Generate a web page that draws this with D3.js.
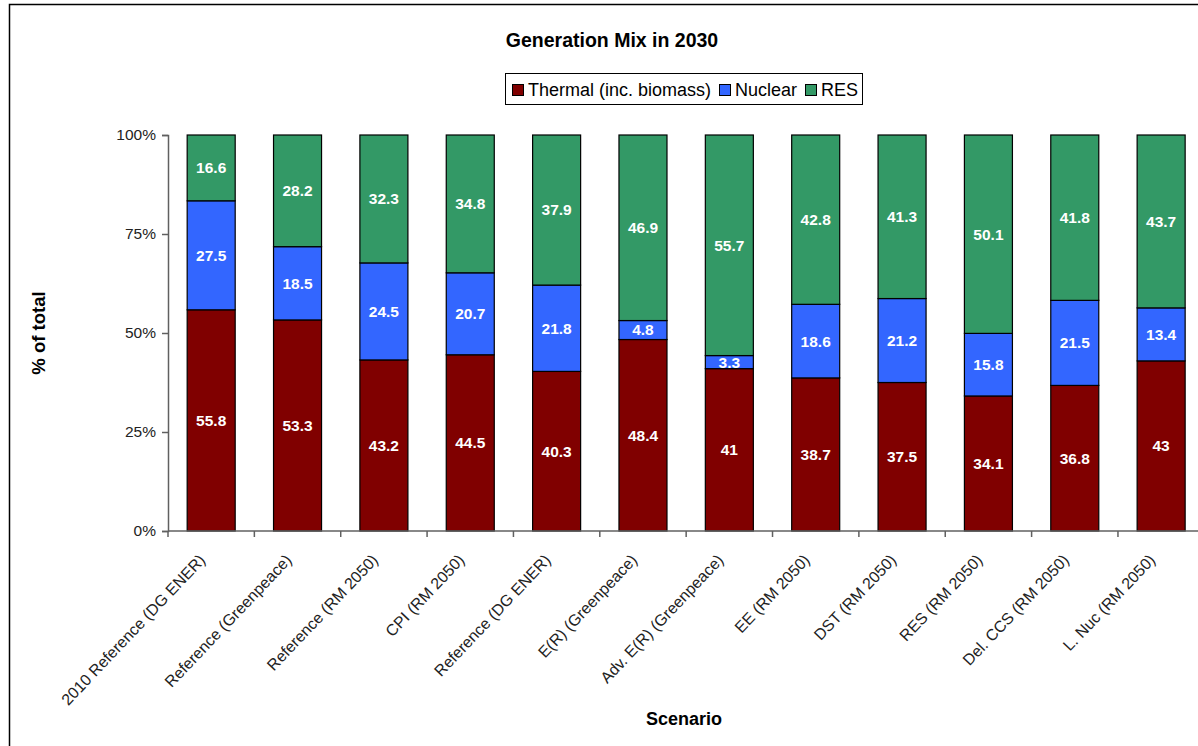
<!DOCTYPE html>
<html>
<head>
<meta charset="utf-8">
<script src="https://cdn.jsdelivr.net/npm/d3@7/dist/d3.min.js"></script>
<style>
  html, body { margin: 0; padding: 0; background: #fff; }
  svg { display: block; }
  text { font-family: Arial, "Liberation Sans", sans-serif; }
</style>
</head>
<body>
<svg id="chart" width="1198" height="746"></svg>
<script>
// Scenarios and their 2030 generation shares (%)
const scenarios = [
  "2010 Reference (DG ENER)", "Reference (Greenpeace)", "Reference (RM 2050)",
  "CPI (RM 2050)", "Reference (DG ENER)", "E(R) (Greenpeace)",
  "Adv. E(R) (Greenpeace)", "EE (RM 2050)", "DST (RM 2050)",
  "RES (RM 2050)", "Del. CCS (RM 2050)", "L. Nuc (RM 2050)"
];
const seriesNames = ["Thermal (inc. biomass)", "Nuclear", "RES"];
const thermal = [55.8, 53.3, 43.2, 44.5, 40.3, 48.4, 41, 38.7, 37.5, 34.1, 36.8, 43];
const nuclear = [27.5, 18.5, 24.5, 20.7, 21.8, 4.8, 3.3, 18.6, 21.2, 15.8, 21.5, 13.4];
const res     = [16.6, 28.2, 32.3, 34.8, 37.9, 46.9, 55.7, 42.8, 41.3, 50.1, 41.8, 43.7];
const yTicks = [0, 0.25, 0.5, 0.75, 1];
const colors = ["#800000", "#3366FF", "#339966"];

const svg = d3.select("#chart");

// outer chart frame (runs past the right and bottom edges)
svg.append("rect")
  .attr("x", 9.5).attr("y", 4.5).attr("width", 1250).attr("height", 800)
  .attr("fill", "none").attr("stroke", "#000").attr("stroke-width", 1.5);

const plotLeft = 168, plotTop = 135, plotBottom = 531;
const step = 86.36;
const plotRight = plotLeft + step * scenarios.length;

const x = d3.scaleBand().domain(scenarios).range([plotLeft, plotRight]).paddingInner(0).paddingOuter(0);
const y = d3.scaleLinear().domain([0, 1]).range([plotBottom, plotTop]);
const barW = x.bandwidth() * 0.556;

// rows normalised to 100 %
const rows = scenarios.map((s, i) => {
  const vals = [thermal[i], nuclear[i], res[i]];
  const tot = d3.sum(vals);
  const r = { scenario: s };
  seriesNames.forEach((n, k) => { r[n] = vals[k] / tot; r[n + "_raw"] = vals[k]; });
  return r;
});
const stack = d3.stack().keys(seriesNames);
const layers = stack(rows);

const g = svg.append("g");
layers.forEach((layer, k) => {
  const lg = g.append("g");
  lg.selectAll("rect").data(layer).enter().append("rect")
    .attr("x", d => x(d.data.scenario) + (x.bandwidth() - barW) / 2)
    .attr("y", d => y(d[1]))
    .attr("width", barW)
    .attr("height", d => y(d[0]) - y(d[1]))
    .attr("fill", colors[k])
    .attr("stroke", "#000").attr("stroke-width", 1.2);
  lg.selectAll("text").data(layer).enter().append("text")
    .attr("x", d => x(d.data.scenario) + x.bandwidth() / 2)
    .attr("y", d => (y(d[0]) + y(d[1])) / 2)
    .attr("dy", "0.35em")
    .attr("text-anchor", "middle")
    .attr("fill", "#fff").attr("font-weight", "bold").attr("font-size", "15.5px")
    .text(d => d.data[seriesNames[k] + "_raw"]);
});

// Y axis
const yAxis = d3.axisLeft(y).tickValues(yTicks).tickFormat(d3.format(".0%")).tickSize(6).tickPadding(6);
const ya = svg.append("g").attr("transform", `translate(${plotLeft},0)`).call(yAxis);
ya.select(".domain").attr("stroke", "#606060").attr("stroke-width", 1.5);
ya.selectAll(".tick line").attr("stroke", "#606060").attr("stroke-width", 1.5);
ya.selectAll(".tick text").attr("font-size", "15.5px").attr("fill", "#222")
  .attr("font-family", "Arial, 'Liberation Sans', sans-serif");

// X axis: tick marks at category boundaries
const xa = svg.append("g");
xa.append("line").attr("x1", plotLeft).attr("x2", plotRight).attr("y1", plotBottom).attr("y2", plotBottom)
  .attr("stroke", "#606060").attr("stroke-width", 1.5);
xa.selectAll("line.tk").data(d3.range(scenarios.length + 1)).enter().append("line")
  .attr("class", "tk")
  .attr("x1", i => plotLeft + i * x.step()).attr("x2", i => plotLeft + i * x.step())
  .attr("y1", plotBottom).attr("y2", plotBottom + 6)
  .attr("stroke", "#606060").attr("stroke-width", 1.5);
xa.selectAll("text").data(scenarios).enter().append("text")
  .attr("transform", d => `translate(${x(d) + x.bandwidth() / 2 - 9},${plotBottom + 26}) rotate(-46.5)`)
  .attr("text-anchor", "end")
  .attr("dy", "0.35em")
  .attr("font-size", "15.9px").attr("fill", "#222")
  .text(d => d);

// Titles
svg.append("text").attr("x", 612).attr("y", 47).attr("text-anchor", "middle")
  .attr("font-size", "19.5px").attr("font-weight", "bold").text("Generation Mix in 2030");
svg.append("text").attr("transform", "translate(45,333) rotate(-90)").attr("text-anchor", "middle")
  .attr("font-size", "18.5px").attr("font-weight", "bold").text("% of total");
svg.append("text").attr("x", 684).attr("y", 725).attr("text-anchor", "middle")
  .attr("font-size", "18px").attr("font-weight", "bold").text("Scenario");

// Legend
const leg = svg.append("g");
leg.append("rect").attr("x", 505.5).attr("y", 73.5).attr("width", 357).attr("height", 31)
  .attr("fill", "#fff").attr("stroke", "#000").attr("stroke-width", 1);
const legX = [512, 719, 805];
seriesNames.forEach((n, k) => {
  leg.append("rect").attr("x", legX[k] + 0.5).attr("y", 84.5).attr("width", 11).attr("height", 11)
    .attr("fill", colors[k]).attr("stroke", "#000").attr("stroke-width", 1);
  leg.append("text").attr("x", legX[k] + 16).attr("y", 96)
    .attr("font-size", "18px").attr("fill", "#000").text(n);
});
</script>
</body>
</html>
